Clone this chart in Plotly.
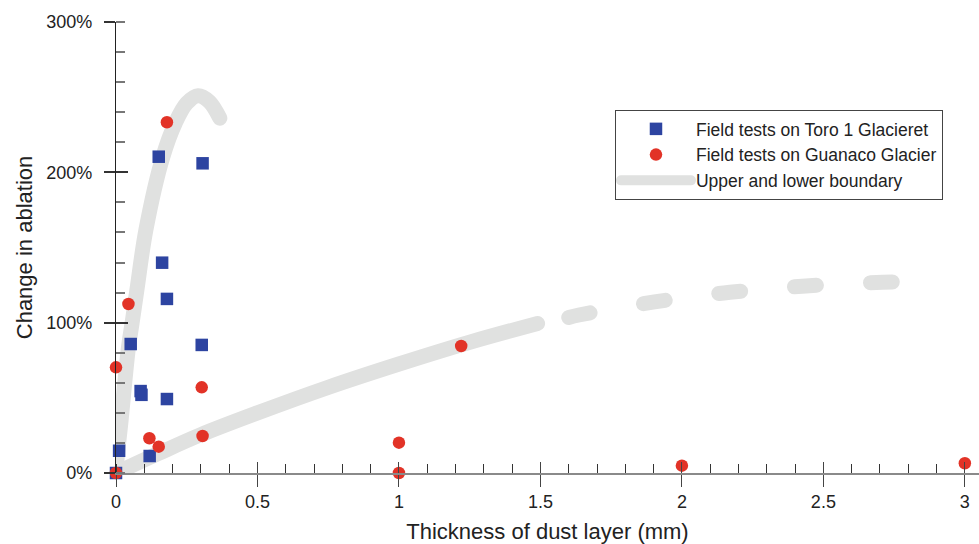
import plotly.graph_objects as go

# ---- data ----
toro_x = [0.0, 0.011, 0.052, 0.087, 0.09, 0.119, 0.151, 0.163, 0.180, 0.180, 0.306, 0.303]
toro_y = [0.0, 14.8, 85.8, 54.5, 52.0, 11.3, 210.4, 139.9, 115.8, 49.2, 206.0, 85.2]

guan_x = [0.0, 0.0, 0.044, 0.118, 0.151, 0.180, 0.303, 0.306, 1.0, 1.0, 1.22, 2.0, 3.0]
guan_y = [0.0, 70.3, 112.4, 23.1, 17.5, 233.3, 57.0, 24.6, 0.0, 20.2, 84.5, 4.9, 6.5]

upper_x = [0.0, 0.005, 0.018, 0.043, 0.057, 0.074, 0.106, 0.165, 0.21, 0.25, 0.29, 0.33, 0.367]
upper_y = [0.0, 12.0, 35.0, 82.0, 100.0, 122.0, 162.0, 210.0, 233.0, 246.0, 251.0, 247.0, 236.0]

lower_solid_x = [0.0, 0.15, 0.3, 0.5, 0.75, 1.0, 1.25, 1.49]
lower_solid_y = [0.0, 13.0, 25.5, 40.0, 57.0, 72.5, 87.0, 99.5]

lower_dash_x = [1.60, 1.636, 1.903, 2.17, 2.438, 2.709, 2.75]
lower_dash_y = [103.5, 105.1, 113.8, 120.2, 124.4, 126.9, 127.1]

y_tickvals = [0, 100, 200, 300]
y_ticktext = ["0%", "100%", "200%", "300%"]
x_tickvals = [0, 0.5, 1, 1.5, 2, 2.5, 3]
x_ticktext = ["0", "0.5", "1", "1.5", "2", "2.5", "3"]

BLUE = "#2d44a1"
RED = "#e23327"
GRAY = "#e0e1e0"
FONT = "Liberation Sans, Arial, sans-serif"

fig = go.Figure()

fig.add_trace(go.Scatter(x=upper_x, y=upper_y, mode="lines", line=dict(color=GRAY, width=15, shape="spline"),
                         name="Upper and lower boundary", legendgroup="b", legendrank=3, hoverinfo="skip"))
fig.add_trace(go.Scatter(x=lower_solid_x, y=lower_solid_y, mode="lines", line=dict(color=GRAY, width=15, shape="spline"),
                         name="lower", legendgroup="b", showlegend=False, hoverinfo="skip"))
fig.add_trace(go.Scatter(x=lower_dash_x, y=lower_dash_y, mode="lines",
                         line=dict(color=GRAY, width=15, shape="spline", dash="22px,54px"),
                         name="lower dashed", legendgroup="b", showlegend=False, hoverinfo="skip"))

fig.add_trace(go.Scatter(x=toro_x, y=toro_y, mode="markers", name="Field tests on Toro 1 Glacieret",
                         marker=dict(symbol="square", size=12.5, color=BLUE), legendrank=1, cliponaxis=False))
fig.add_trace(go.Scatter(x=guan_x, y=guan_y, mode="markers", name="Field tests on Guanaco Glacier",
                         marker=dict(symbol="circle", size=12.5, color=RED), legendrank=2, cliponaxis=False))

# dummy trace to activate the overlay axes (inner halves of the crossing major ticks)
fig.add_trace(go.Scatter(x=[None], y=[None], xaxis="x2", yaxis="y2", showlegend=False, hoverinfo="skip"))

XR = [0, 3.05]
YR = [0, 300]

fig.update_layout(
    width=979, height=544,
    margin=dict(l=116, r=0, t=22, b=71),
    paper_bgcolor="white", plot_bgcolor="white",
    font=dict(family=FONT, color="#222"),
    showlegend=True,
    legend=dict(x=0.5782, y=0.8049, xanchor="left", yanchor="top",
                bordercolor="#444", borderwidth=1, bgcolor="white",
                font=dict(size=17.5, family=FONT, color="#222"), itemwidth=70,
                traceorder="normal"),
    xaxis=dict(range=XR, showgrid=False, zeroline=False, showline=True, linecolor="#8a8a8a", linewidth=1.5,
               tickvals=x_tickvals, ticktext=x_ticktext, ticks="outside", ticklen=12, tickcolor="#444", tickwidth=1,
               tickfont=dict(size=18, family=FONT, color="#222"),
               minor=dict(dtick=0.1, ticks="inside", ticklen=9, tickcolor="#333", tickwidth=1),
               title=dict(text="Thickness of dust layer (mm)", font=dict(size=22, family=FONT, color="#222"), standoff=14),
               automargin=False),
    yaxis=dict(range=YR, showgrid=False, zeroline=False, showline=True, linecolor="#222", linewidth=1.2,
               tickvals=y_tickvals, ticktext=y_ticktext, ticks="outside", ticklen=11, tickcolor="#333", tickwidth=1.5,
               tickfont=dict(size=18, family=FONT, color="#222"), ticklabelstandoff=8,
               minor=dict(dtick=20, ticks="inside", ticklen=9, tickcolor="#777", tickwidth=1.5),
               title=dict(text="Change in ablation", font=dict(size=22, family=FONT, color="#222"), standoff=7),
               automargin=False),
    xaxis2=dict(range=XR, overlaying="x", anchor="y2", showgrid=False, zeroline=False, showline=False,
                tickvals=x_tickvals, ticks="inside", ticklen=11, tickcolor="#444", tickwidth=1,
                showticklabels=False),
    yaxis2=dict(range=YR, overlaying="y", anchor="x2", showgrid=False, zeroline=False, showline=False,
                tickvals=y_tickvals, ticks="inside", ticklen=12, tickcolor="#333", tickwidth=1.5,
                showticklabels=False),
)

post = """
function rc(){document.querySelectorAll('.scatterlayer .js-line, .legendlines path').forEach(function(p){
  p.style.strokeLinecap='round'; p.style.strokeLinejoin='round';});}
rc(); setTimeout(rc, 50);
"""
fig.write_html("out.html", post_script=post)
